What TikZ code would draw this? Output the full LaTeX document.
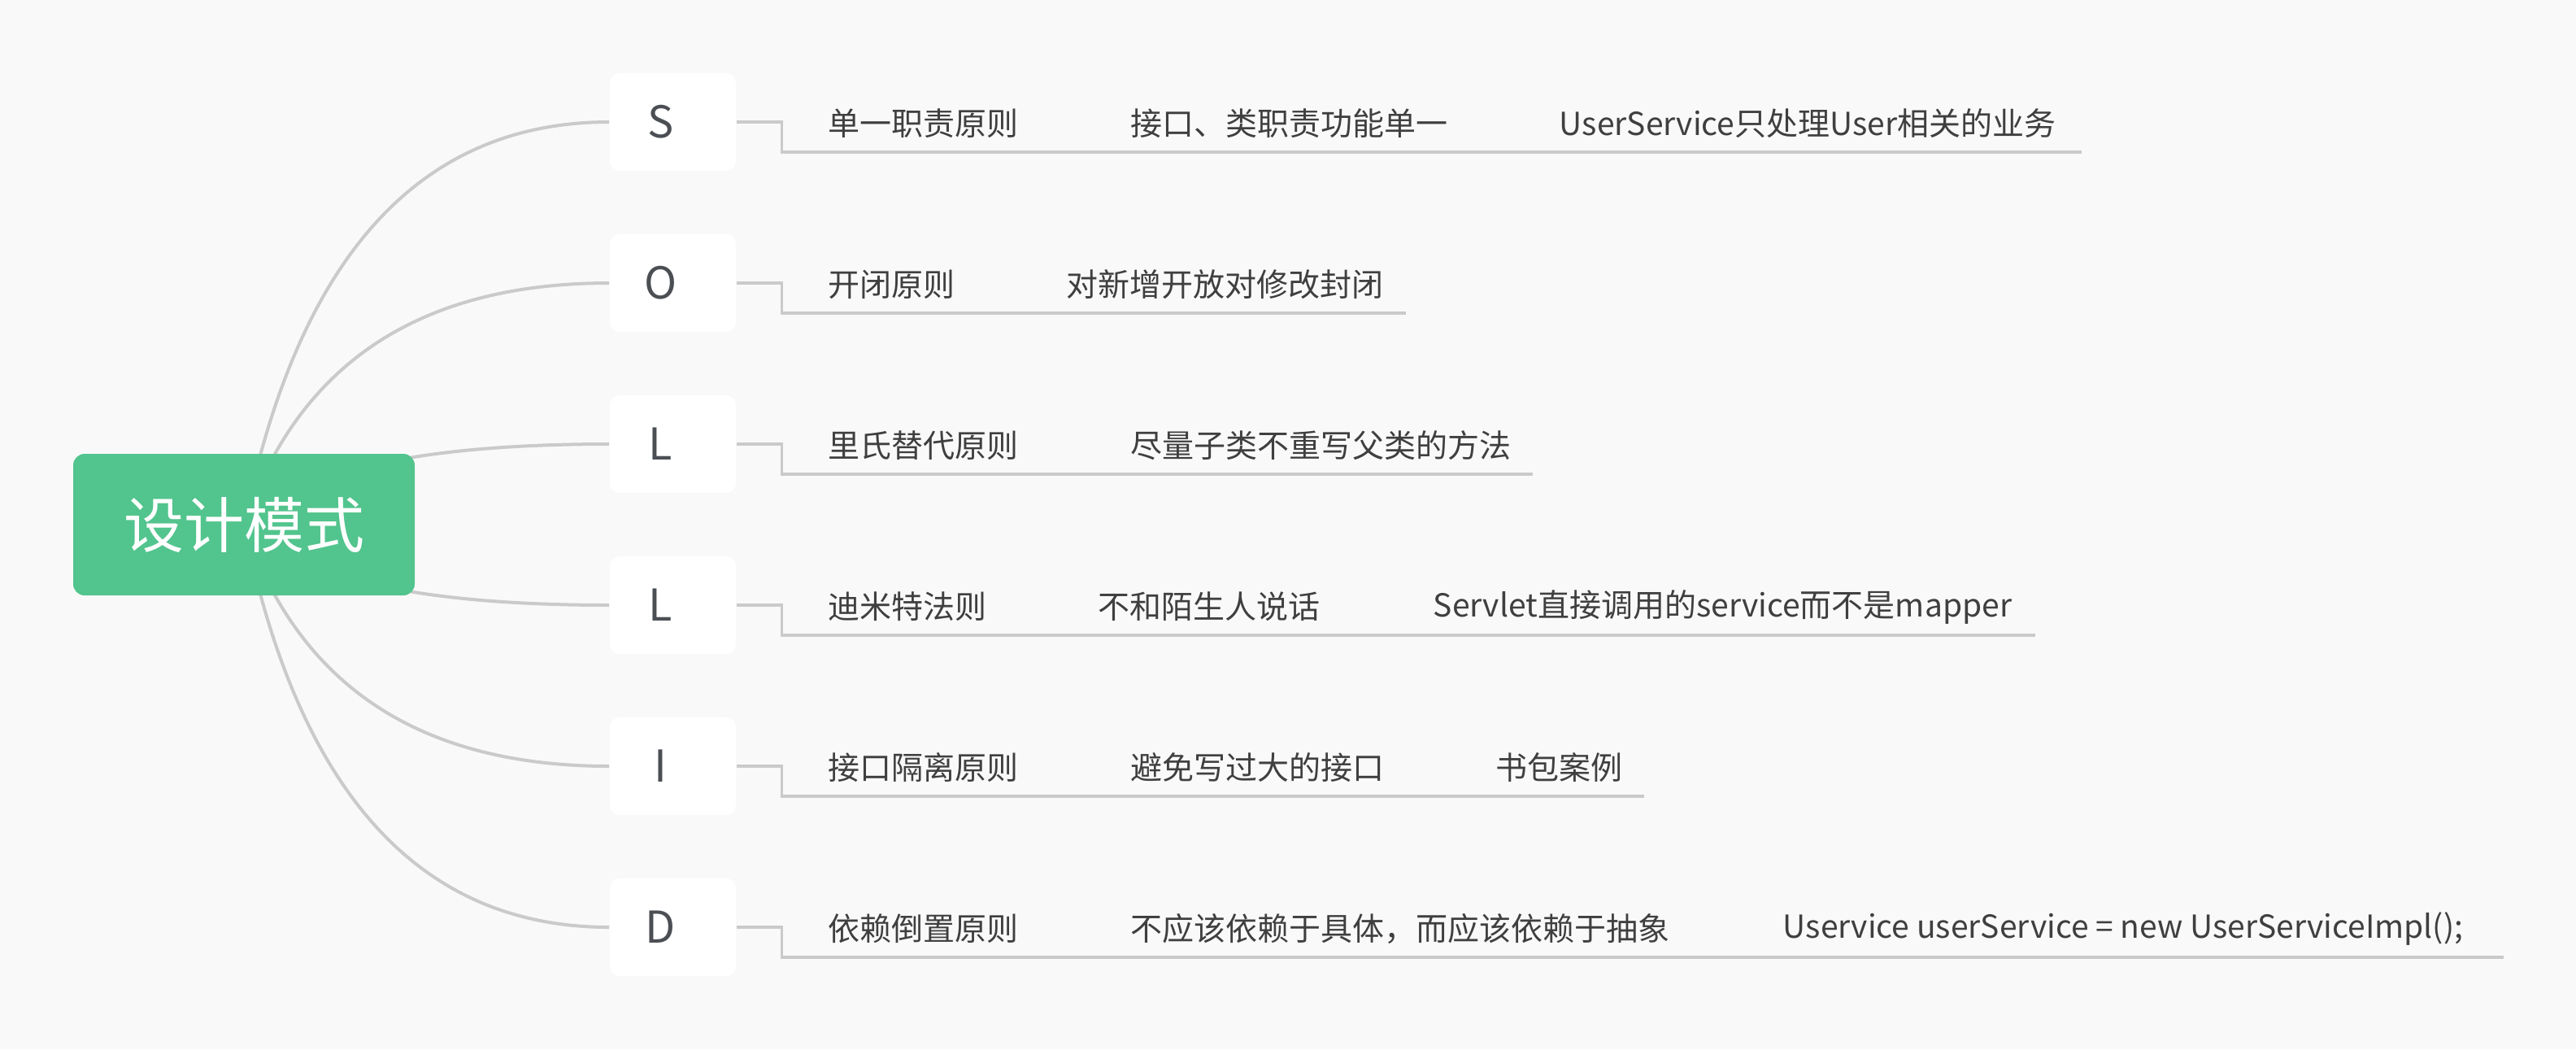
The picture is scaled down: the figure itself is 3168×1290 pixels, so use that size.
\documentclass[tikz,border=0pt]{standalone}
\usepackage{fontspec}
\setmainfont{Noto Sans CJK SC}
\usetikzlibrary{calc}
\pgfdeclarelayer{bg}\pgfdeclarelayer{edges}\pgfsetlayers{bg,edges,main}
\definecolor{pagebg}{HTML}{F9F9F9}
\definecolor{rootgreen}{HTML}{52C48D}
\definecolor{linegray}{HTML}{CACACA}
\definecolor{txt}{HTML}{3F3F3F}
\definecolor{lettertxt}{HTML}{4B4F54}
\newcommand{\lettershift}{\kern-7.5pt}
\tikzset{
  rootbox/.style={fill=rootgreen, text=white, rounded corners=3.5pt, minimum width=105pt, minimum height=43.5pt, inner sep=0pt, font=\fontsize{18.5pt}{22pt}\selectfont},
  letterbox/.style={fill=white, text=lettertxt, rounded corners=3pt, minimum width=38.75pt, minimum height=30pt, inner sep=0pt, font=\fontsize{13.5pt}{16pt}\selectfont},
  topic/.style={anchor=west, inner sep=0pt, text=txt, font=\fontsize{9.75pt}{12pt}\selectfont},
  curveline/.style={draw=linegray, line width=1pt},
  uline/.style={draw=linegray, line width=0.8pt},
}
\begin{document}
\begin{tikzpicture}[x=0.25pt, y=-0.25pt]
\useasboundingbox (0,0) rectangle (3168,1290);
\begin{pgfonlayer}{bg}
\fill[pagebg] (0,0) rectangle (3168,1290);
\end{pgfonlayer}

\node[rootbox] (root) at (300,645) {设计模式};

\node[letterbox] (s)  at (827.5,150)  {\lettershift S};
\node[letterbox] (o)  at (827.5,348)  {\lettershift O};
\node[letterbox] (l1) at (827.5,546)  {\lettershift L};
\node[letterbox] (l2) at (827.5,744)  {\lettershift L};
\node[letterbox] (i)  at (827.5,942)  {\lettershift I};
\node[letterbox] (d)  at (827.5,1140) {\lettershift D};

% row S
\node[topic] (s1) at (1018,152) {单一职责原则};
\node[topic] (s2) at (1390,152) {接口、类职责功能单一};
\node[topic] (s3) at (1917,152) {UserService只处理User相关的业务};
\coordinate (s-end) at (2560,187);
% row O
\node[topic] (o1) at (1018,350) {开闭原则};
\node[topic] (o2) at (1311,350) {对新增开放对修改封闭};
\coordinate (o-end) at (1729,385);
% row L1
\node[topic] (la1) at (1018,548) {里氏替代原则};
\node[topic] (la2) at (1390,548) {尽量子类不重写父类的方法};
\coordinate (l1-end) at (1885,583);
% row L2
\node[topic] (lb1) at (1018,746) {迪米特法则};
\node[topic] (lb2) at (1350,746) {不和陌生人说话};
\node[topic] (lb3) at (1762,746) {Servlet直接调用的service而不是mapper};
\coordinate (l2-end) at (2503,781);
% row I
\node[topic] (i1) at (1018,944) {接口隔离原则};
\node[topic] (i2) at (1390,944) {避免写过大的接口};
\node[topic] (i3) at (1839,944) {书包案例};
\coordinate (i-end) at (2022,979);
% row D
\node[topic] (d1) at (1018,1142) {依赖倒置原则};
\node[topic] (d2) at (1390,1142) {不应该依赖于具体，而应该依赖于抽象};
\node[topic] (d3) at (2192,1142) {Uservice userService = new UserServiceImpl();};
\coordinate (d-end) at (3079,1177);

\begin{pgfonlayer}{edges}
\foreach \n/\y in {s/150, o/348, l1/546, l2/744, i/942, d/1140}{
  \draw[curveline] (root.center) .. controls ($(root.center)!0.6667!(400,\y)$) and ($(\n.west)!0.6667!(400,\y)$) .. (\n.west);
  \draw[uline] (\n.east) -- ++(56,0) |- (\n-end);
}
\end{pgfonlayer}
\end{tikzpicture}
\end{document}
